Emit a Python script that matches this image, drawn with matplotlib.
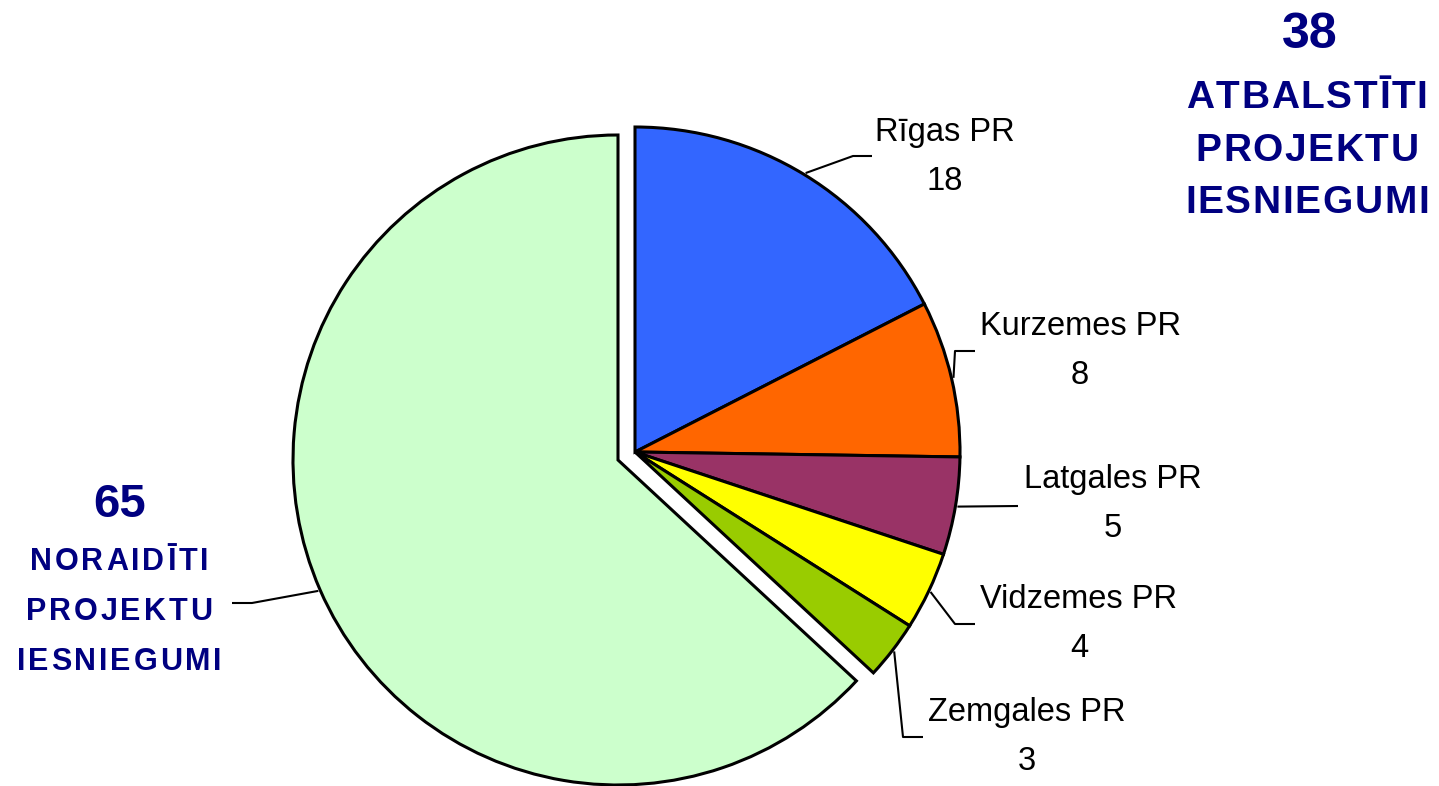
import matplotlib
matplotlib.use("Agg")
import numpy as np
import matplotlib.pyplot as plt
from matplotlib import ft2font
from matplotlib.font_manager import findfont, FontProperties

regions = ["Rīgas PR", "Kurzemes PR", "Latgales PR", "Vidzemes PR", "Zemgales PR"]
supported = [18, 8, 5, 4, 3]
rejected = 65
colors = ["#3366FF", "#FF6600", "#993366", "#FFFF00", "#99CC00", "#CCFFCC"]

W, H = 1439, 786
NAVY = "#000080"
plt.rcParams["font.family"] = ["Liberation Sans", "DejaVu Sans"]

fig = plt.figure(figsize=(W / 100, H / 100), dpi=100)
ax = fig.add_axes([0, 0, 1, 1])

# pixel coords (y from top) -> data coords
def P(x, y):
    return x, H - y

values = supported + [rejected]
cx, cy = P(618, 460)
R = 325
wedges, _ = ax.pie(values, colors=colors, startangle=90, counterclock=False,
                   center=(cx, cy), radius=R,
                   wedgeprops=dict(edgecolor="black", linewidth=2.2))
# supported group pulled out together
shift = (17, 8)
for w in wedges[:5]:
    w.set_center((cx + shift[0], cy + shift[1]))

ax.set_xlim(0, W)
ax.set_ylim(0, H)
ax.set_aspect("equal")
ax.axis("off")

# leader lines: start on the wedge edge, then elbow and end (layout, px)
elbows = [[(853, 156), (872, 156)],
          [(955, 351), (975, 351)],
          [(1018, 506)],
          [(955, 624), (975, 624)],
          [(903, 737), (923, 737)],
          [(252, 603), (232, 603)]]
label_pos = [(945, 141), (1080, 335), (1113, 488), (1079, 608), (1027, 721)]

for i, w in enumerate(wedges):
    mid = np.deg2rad((w.theta1 + w.theta2) / 2)
    c = w.center
    sx, sy = c[0] + (R + 2) * np.cos(mid), c[1] + (R + 2) * np.sin(mid)
    pts = [(sx, sy)] + [P(*e) for e in elbows[i]]
    xs, ys = zip(*pts)
    ax.plot(xs, ys, color="black", lw=1.5, solid_capstyle="butt")

for name, v, (lx, ly) in zip(regions, supported, label_pos):
    ax.text(*P(lx, ly), name, ha="center", va="baseline", fontsize=23.5)
    ax.text(*P(lx, ly + 49), str(v), ha="center", va="baseline", fontsize=23.5)


def spaced(x, y, s, size, gap):
    # draw text with extra letter spacing, centred on x
    f = ft2font.FT2Font(findfont(FontProperties(family="Liberation Sans", weight="bold")))
    f.set_size(size, 100)
    adv = [f.load_char(ord(ch)).linearHoriAdvance / 65536 for ch in s]
    total = sum(adv) + gap * (len(s) - 1)
    x0 = x - total / 2
    for ch, a in zip(s, adv):
        ax.text(*P(x0, y), ch, ha="left", va="baseline", fontsize=size,
                fontweight="bold", color=NAVY)
        x0 += a + gap


ax.text(*P(1310, 48), str(sum(supported)), ha="center", va="baseline",
        fontsize=36, fontweight="bold", color=NAVY)
for s, y in zip(["ATBALSTĪTI", "PROJEKTU", "IESNIEGUMI"], [108, 161, 213]):
    spaced(1307, y, s, 28, 1.6)

ax.text(*P(120, 517), str(rejected), ha="center", va="baseline",
        fontsize=34, fontweight="bold", color=NAVY)
for s, y in zip(["NORAIDĪTI", "PROJEKTU", "IESNIEGUMI"], [570, 620, 670]):
    spaced(119, y, s, 22, 2.8)

fig.savefig("out.png", dpi=100)
